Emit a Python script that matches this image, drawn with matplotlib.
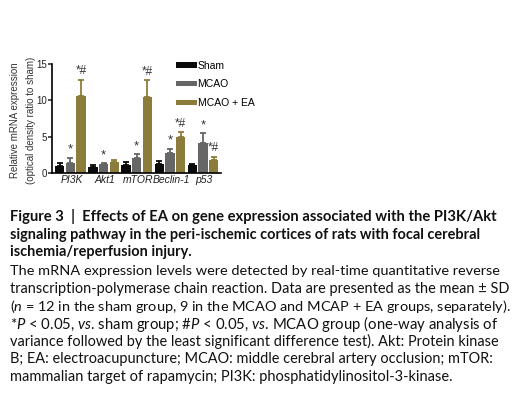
import numpy as np
import matplotlib
matplotlib.use('Agg')
import matplotlib.pyplot as plt

genes = ['PI3K', 'Akt1', 'mTOR', 'Beclin-1', 'p53']
groups = ['Sham', 'MCAO', 'MCAO + EA']
sham = [1.0, 0.85, 1.1, 1.2, 1.1]
sham_sd = [0.4, 0.2, 0.37, 0.5, 0.15]
mcao = [1.35, 1.25, 2.0, 2.7, 4.1]
mcao_sd = [0.7, 0.1, 0.55, 0.6, 1.35]
ea = [10.6, 1.5, 10.4, 4.9, 1.85]
ea_sd = [2.25, 0.25, 2.4, 0.75, 0.4]
mcao_marks = ['*', '*', '*', '*', '*']
ea_marks = ['*#', '', '*#', '*#', '*#']

colors = ['#0a0a0a', '#666666', '#8c7c3c']

plt.rcParams['font.family'] = ['Liberation Sans', 'DejaVu Sans']
plt.rcParams['mathtext.fontset'] = 'custom'
plt.rcParams['mathtext.rm'] = 'Lato'
plt.rcParams['mathtext.it'] = 'Lato:italic'
plt.rcParams['mathtext.bf'] = 'Lato:bold'

fig = plt.figure(figsize=(5.12, 3.97), dpi=100)
ax = fig.add_axes([52 / 512, (397 - 173) / 397, 169 / 512, 109 / 397])

x = np.arange(len(genes))
step = 0.322
width = 0.285
means = [sham, mcao, ea]
sds = [sham_sd, mcao_sd, ea_sd]
for i in range(3):
    pos = x + (i - 1) * step
    ax.bar(pos, means[i], width, color=colors[i], label=groups[i], zorder=2)
    ax.errorbar(pos, means[i], yerr=[np.zeros(len(genes)), sds[i]], fmt='none',
                ecolor=colors[i], elinewidth=1.3, capsize=2.2, capthick=1.3, zorder=1)

for j in range(len(genes)):
    top = mcao[j] + mcao_sd[j]
    ax.text(x[j], top + 0.3, mcao_marks[j], ha='center', va='bottom', fontsize=9.5, color='#333333')
    if ea_marks[j]:
        top = ea[j] + ea_sd[j]
        ax.text(x[j] + step, top + 0.3, ea_marks[j], ha='center', va='bottom',
                fontsize=8.5, color='#333333')

ax.set_xlim(-0.555, 4.54)
ax.set_ylim(0, 15)
ax.set_yticks([0, 5, 10, 15])
ax.tick_params(axis='y', labelsize=7, length=3, width=1.1, pad=0.8, colors='#222222')
ax.set_xticks(x + 0.03)
ax.set_xticklabels(genes, fontstyle='italic', fontsize=7.5, color='#222222')
ax.tick_params(axis='x', length=0, pad=1.5)
for s in ['top', 'right']:
    ax.spines[s].set_visible(False)
for s in ['left', 'bottom']:
    ax.spines[s].set_linewidth(1.2)
ax.set_ylabel('Relative mRNA expression\n(optical density ratio to sham)',
              fontsize=7, linespacing=1.75, color='#333333')
ax.yaxis.set_label_coords(-0.095, 0.48)

leg = ax.legend(loc='upper left', bbox_to_anchor=(0.71, 1.07), frameon=False,
                fontsize=7.5, handlelength=2.0, handleheight=0.45, handletextpad=0.05,
                labelspacing=0.85, borderaxespad=0)

# caption
title_lines = [
    'Figure 3  |  Effects of EA on gene expression associated with the PI3K/Akt',
    'signaling pathway in the peri-ischemic cortices of rats with focal cerebral',
    'ischemia/reperfusion injury.',
]
title_ends = [493, 492, None]
body_lines = [
    'The mRNA expression levels were detected by real-time quantitative reverse',
    'transcription-polymerase chain reaction. Data are presented as the mean \u00b1 SD',
    r'($\mathit{n}$ = 12 in the sham group, 9 in the MCAO and MCAP + EA groups, separately).',
    r'*$\mathit{P}$ < 0.05, $\mathit{vs}$. sham group; #$\mathit{P}$ < 0.05, $\mathit{vs}$. MCAO group (one-way analysis of',
    'variance followed by the least significant difference test). Akt: Protein kinase',
    'B; EA: electroacupuncture; MCAO: middle cerebral artery occlusion; mTOR:',
    'mammalian target of rapamycin; PI3K: phosphatidylinositol-3-kinase.',
]
# right end of each body line in the reference, in pixels
body_ends = [497, 507, 507, 497, 497, 491, 450]

renderer = fig.canvas.get_renderer()
y = 217
size = 10.4
for line, end in zip(title_lines, title_ends):
    t = fig.text(10 / 512, 1 - y / 397, line, fontfamily='Lato', fontweight='bold',
                 fontsize=size, va='center', color='#111111')
    if end:
        w = t.get_window_extent(renderer).width
        t.set_fontsize(10.4 * (end - 10) / w)
        size = t.get_fontsize()
    y += 17.6
y += 1.5
for line, end in zip(body_lines, body_ends):
    t = fig.text(10 / 512, 1 - y / 397, line, fontfamily='Lato', fontsize=10.4,
                 va='center', color='#111111')
    w = t.get_window_extent(renderer).width
    t.set_fontsize(10.4 * (end - 10) / w)
    y += 17.6

fig.savefig('out.png', dpi=100)
